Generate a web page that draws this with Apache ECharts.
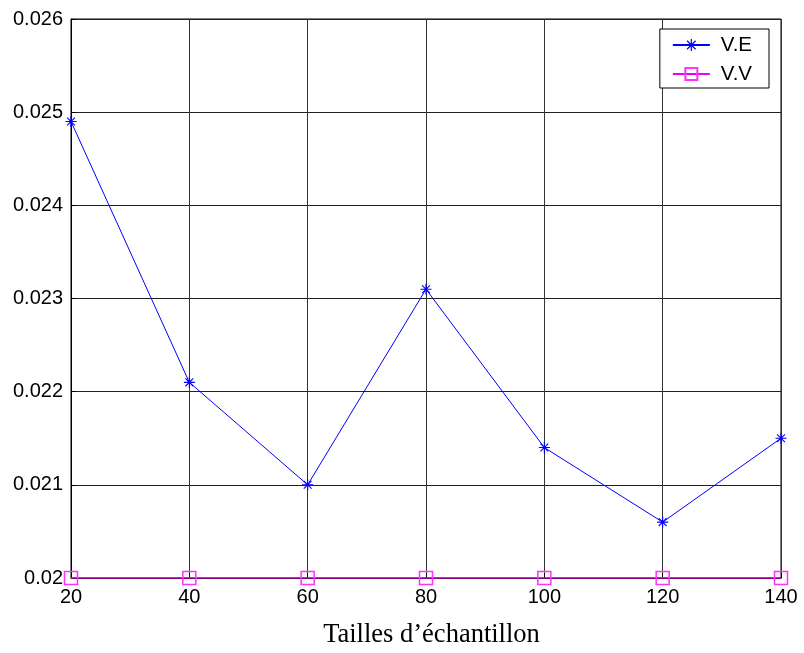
<!DOCTYPE html>
<html><head><meta charset="utf-8">
<script src="https://cdn.jsdelivr.net/npm/echarts@6/dist/echarts.min.js"></script>
<style>html,body{margin:0;padding:0;background:#fff}#c{width:804px;height:653px}</style>
</head><body><div id="c"></div>
<script>
const sizes = [20, 40, 60, 80, 100, 120, 140];
const ve = [0.0249, 0.0221, 0.0210, 0.0231, 0.0214, 0.0206, 0.0215];
const vv = [0.02, 0.02, 0.02, 0.02, 0.02, 0.02, 0.02];
const seriesNames = ['V.E', 'V.V'];
const xTitle = 'Tailles d\u2019échantillon';

const star = 'path://M-5,-0.5 L5,-0.5 L5,0.5 L-5,0.5 Z M-0.5,-5 L0.5,-5 L0.5,5 L-0.5,5 Z M-3.9,-3.2 L-3.2,-3.9 L3.9,3.2 L3.2,3.9 Z M3.2,-3.9 L3.9,-3.2 L-3.2,3.9 L-3.9,3.2 Z';

const chart = echarts.init(document.getElementById('c'), null, {renderer: 'canvas'});
const fmt = v => { let s = (+v).toFixed(3); s = s.replace(/0+$/, ''); return s; };
chart.setOption({
  animation: false,
  backgroundColor: '#fff',
  grid: {left: 71, right: 23, top: 19, bottom: 75, show: true, borderColor: '#000', borderWidth: 1, outerBoundsMode: 'none', containLabel: false},
  legend: {
    right: 35, top: 29, orient: 'vertical',
    backgroundColor: '#fff', borderColor: '#000', borderWidth: 1,
    padding: [4, 17, 2, 12], itemGap: 5, itemWidth: 37, itemHeight: 15,
    textStyle: {fontFamily: 'Arial, Liberation Sans', fontSize: 20.5, color: '#000', lineHeight: 24, padding: [0, 0, 0, 6]},
    data: seriesNames
  },
  xAxis: {
    type: 'value', min: 20, max: 140, interval: 20,
    name: xTitle, nameLocation: 'middle', nameGap: 44,
    nameTextStyle: {fontFamily: 'Times New Roman, Liberation Serif', fontSize: 26.5, color: '#000', padding: [0, 0, 0, 11]},
    axisLine: {show: true, lineStyle: {color: '#000'}},
    axisTick: {inside: true, length: 5, lineStyle: {color: '#000'}},
    axisLabel: {fontFamily: 'Arial, Liberation Sans', fontSize: 20, color: '#000', margin: 9},
    splitLine: {show: true, lineStyle: {color: '#333', width: 1}}
  },
  yAxis: {
    type: 'value', min: 0.02, max: 0.026, interval: 0.001,
    axisLine: {show: true, lineStyle: {color: '#000'}},
    axisTick: {inside: true, length: 5, lineStyle: {color: '#000'}},
    axisLabel: {fontFamily: 'Arial, Liberation Sans', fontSize: 20, color: '#000', margin: 8, formatter: fmt},
    splitLine: {show: true, lineStyle: {color: '#222', width: 1}}
  },
  series: [
    {name: seriesNames[0], type: 'line', data: sizes.map((x, i) => [x, ve[i]]),
     symbol: star, symbolSize: 11, showAllSymbol: true,
     lineStyle: {color: '#0000ff', width: 1}, itemStyle: {color: '#0000ff'}, z: 3},
    {name: seriesNames[1], type: 'line', data: sizes.map((x, i) => [x, vv[i]]),
     symbol: 'rect', symbolSize: 13, showAllSymbol: true,
     lineStyle: {color: '#ee00ee', width: 1.5},
     itemStyle: {color: 'rgba(0,0,0,0)', borderColor: '#ff33ff', borderWidth: 1.5}, z: 4}
  ]
});
</script></body></html>
